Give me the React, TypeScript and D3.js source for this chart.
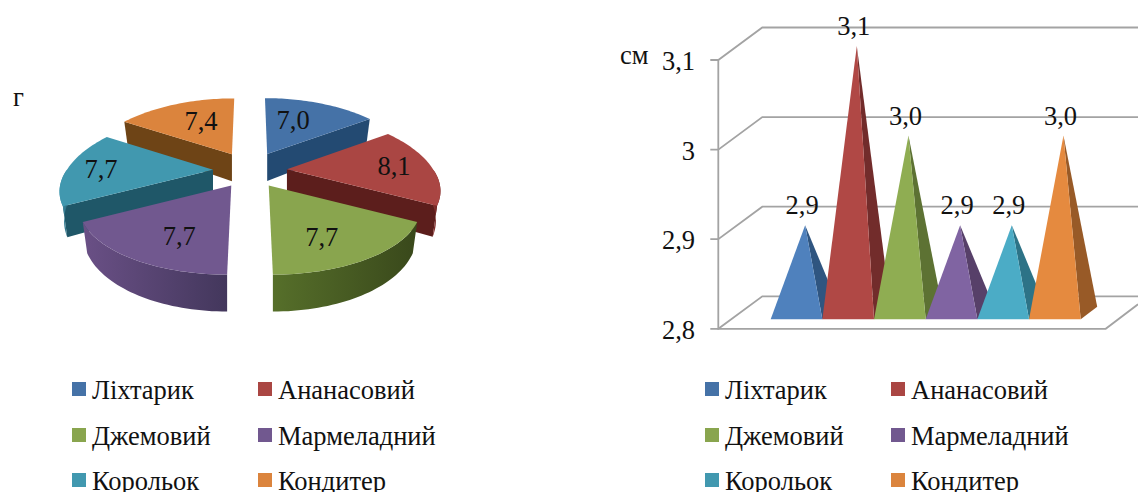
import React from "react";
import * as d3 from "d3";

// Sweet varieties, shared by both charts
const categories = ["Ліхтарик", "Ананасовий", "Джемовий", "Мармеладний", "Корольок", "Кондитер"];
const massValues = [7.0, 8.1, 7.7, 7.7, 7.7, 7.4];
const heightValues = [2.9, 3.1, 3.0, 2.9, 2.9, 3.0];
const heightTicks = [2.8, 2.9, 3.0, 3.1];
const heightTickLabels = ["2,8", "2,9", "3", "3,1"];

const topColors = ["#4572a7", "#aa4643", "#89a54e", "#71588f", "#4198af", "#db843d"];
const wallColors = ["#234a72", "#5c1e1c", "#3e4f1e", "#453a5e", "#1f5768", "#6e4416"];
const rimLeftColors = ["#35597f", "#8a3331", "#566f2a", "#6a5086", "#4a9cb4", "#a8642a"];
const rimRightColors = ["#2a4d78", "#5e1e1c", "#39481b", "#43375c", "#2f7186", "#6e4416"];
const coneColors = ["#4f81bd", "#b04845", "#8fad52", "#8064a2", "#4bacc6", "#e58a3f"];
const coneSideColors = ["#2f5580", "#722c2b", "#5d7233", "#574069", "#2d7387", "#985a27"];

// Value label offsets from each slice's inner corner
const pieLabelOffsets = [[26, -25], [107, 6], [53, 60], [-52, 59], [-112, 8], [-31, -24]];

const FONT = "'Liberation Serif', 'Times New Roman', serif";
const TEXT = "#111";
const FONT_SIZE = 26.5;

// Tilted-disc projection for the pie
const PIE = { cx: 250, cy: 170, rx: 146, ryFront: 65, ryBack: 71, persp: 0.27, depth: 27, explodeX: 37, explodeY: 18, converge: 0.6, floorInset: 0.97 };
const persp = (v: number) => 1 / (1 - PIE.persp * v);
const rimOffset = (theta: number) => {
  const u = Math.sin(theta);
  const v = -Math.cos(theta);
  const w = persp(v);
  return { x: PIE.rx * u * w, y: (v < 0 ? PIE.ryBack : PIE.ryFront) * v * w, d: PIE.depth * w, w };
};

const line = d3.line<[number, number]>().x((p) => p[0]).y((p) => p[1]);
const closed = (pts: [number, number][]) => line(pts) + "Z";

const arcs = d3.pie<number>().sort(null).startAngle(0).endAngle(2 * Math.PI)(massValues);

function sliceGeometry(i: number) {
  const a = arcs[i];
  const mid = (a.startAngle + a.endAngle) / 2;
  const ex = PIE.explodeX * Math.sin(mid);
  const ax = PIE.cx + ex;
  const ay = PIE.cy - PIE.explodeY * Math.cos(mid);
  // The sideways explode offset grows with nearness, so slice edges converge
  const at = (t: number): [number, number] => {
    const o = rimOffset(t);
    return [ax + o.x + PIE.converge * ex * (o.w - 1), ay + o.y];
  };
  const low = (t: number): [number, number] => {
    const o = rimOffset(t);
    return [ax + o.x * PIE.floorInset + PIE.converge * ex * (o.w - 1), ay + o.y + o.d];
  };
  const ang = d3.range(0, 41).map((k) => a.startAngle + ((a.endAngle - a.startAngle) * k) / 40);
  const top: [number, number][] = [[ax, ay], ...ang.map(at)];

  const wall = (t: number): [number, number][] => [[ax, ay], at(t), low(t), [ax, ay + PIE.depth]];
  const walls: string[] = [];
  if (Math.sin(a.startAngle) < -1e-6) walls.push(closed(wall(a.startAngle)));
  if (Math.sin(a.endAngle) > 1e-6) walls.push(closed(wall(a.endAngle)));

  const visible = ang.filter((t) => Math.cos(t) <= 0.02);
  const rim = visible.length > 1 ? closed([...visible.map(at), ...[...visible].reverse().map(low)]) : null;
  const xs = visible.map(at).map((p) => p[0]);
  return { ax, ay, top: closed(top), walls, rim, x0: d3.min(xs) ?? ax, x1: d3.max(xs) ?? ax };
}

// Back slices are painted first so the nearer ones overlap them
const paintOrder = [5, 0, 4, 1, 3, 2];

function PieChart() {
  const geo = categories.map((_, i) => sliceGeometry(i));
  return (
    <g>
      <defs>
        {geo.map((g, i) => (
          <linearGradient key={i} id={`rim${i}`} gradientUnits="userSpaceOnUse" x1={g.x0} x2={g.x1} y1={0} y2={0}>
            <stop offset="0" stopColor={rimLeftColors[i]} />
            <stop offset="1" stopColor={rimRightColors[i]} />
          </linearGradient>
        ))}
      </defs>
      {paintOrder.map((i) => {
        const g = geo[i];
        return (
          <g key={i}>
            {g.walls.map((d, k) => <path key={k} d={d} fill={wallColors[i]} />)}
            {g.rim && <path d={g.rim} fill={`url(#rim${i})`} />}
            <path d={g.top} fill={topColors[i]} />
          </g>
        );
      })}
      {massValues.map((v, i) => (
        <text key={i} x={geo[i].ax + pieLabelOffsets[i][0]} y={geo[i].ay + pieLabelOffsets[i][1]}
          textAnchor="middle" fontSize={FONT_SIZE} fontFamily={FONT} fill={TEXT}>
          {v.toFixed(1).replace(".", ",")}
        </text>
      ))}
      <text x={13} y={106} fontSize={FONT_SIZE} fontFamily={FONT} fill={TEXT}>г</text>
    </g>
  );
}

// Pyramid chart frame and scales
const FRAME = { x: 718.3, backDx: 44, backDy: 32.5, right: 1105.7 };
const yScale = d3.scaleLinear().domain([2.8, 3.1]).range([328.8, 60]);
const xBand = d3.scaleBand<string>().domain(categories).range([770.7, 1080.7]).paddingInner(0);
const BASE_Y = 319.3;
const SIDE = { dx: 16.5, dy: 12.6 };
const APEX_SHIFT = 8.6;
const GRID = "#a3a3a3";

function ConeChart() {
  const bw = xBand.bandwidth();
  return (
    <g>
      {heightTicks.map((t, i) => {
        const y = yScale(t);
        const pts: [number, number][] = [[FRAME.x - 8, y], [FRAME.x, y], [FRAME.x + FRAME.backDx, y - FRAME.backDy], [1138, y - FRAME.backDy]];
        return (
          <g key={t}>
            <path d={line(pts) ?? ""} fill="none" stroke={GRID} strokeWidth={1.8} />
            <text x={695} y={y + 10} textAnchor="end" fontSize={FONT_SIZE} fontFamily={FONT} fill={TEXT}>
              {heightTickLabels[i]}
            </text>
          </g>
        );
      })}
      <path d={line([[FRAME.x, yScale(3.1)], [FRAME.x, yScale(2.8)], [FRAME.right, yScale(2.8)], [1138, yScale(2.8) - 24.5]]) ?? ""}
        fill="none" stroke={GRID} strokeWidth={1.8} />
      {categories.map((c, i) => {
        const x0 = xBand(c) ?? 0;
        const x1 = x0 + bw;
        const apexX = x0 + bw / 2 + APEX_SHIFT;
        const apexY = yScale(heightValues[i]) - 14;
        return (
          <g key={c}>
            <path d={closed([[apexX, apexY], [x1, BASE_Y], [x1 + SIDE.dx, BASE_Y - SIDE.dy]])} fill={coneSideColors[i]} />
            <path d={closed([[apexX, apexY], [x0, BASE_Y], [x1, BASE_Y]])} fill={coneColors[i]} />
          </g>
        );
      })}
      {categories.map((c, i) => (
        <text key={c} x={(xBand(c) ?? 0) + bw / 2 + APEX_SHIFT - 3} y={yScale(heightValues[i]) - 25}
          textAnchor="middle" fontSize={FONT_SIZE} fontFamily={FONT} fill={TEXT}>
          {heightValues[i].toFixed(1).replace(".", ",")}
        </text>
      ))}
      <text x={620} y={64} fontSize={FONT_SIZE} fontFamily={FONT} fill={TEXT}>см</text>
    </g>
  );
}

const legendRows = d3.scaleOrdinal<number, number>().domain([0, 1, 2]).range([382, 428, 473]);

function Legend({ x }: { x: number }) {
  return (
    <g>
      {categories.map((c, i) => {
        const col = i % 2;
        const row = Math.floor(i / 2);
        const sx = x + col * 186;
        const sy = legendRows(row);
        return (
          <g key={c}>
            <rect x={sx} y={sy} width={14} height={14} fill={topColors[i]} />
            <text x={sx + 20} y={sy + 17} fontSize={FONT_SIZE} fontFamily={FONT} fill={TEXT}>{c}</text>
          </g>
        );
      })}
    </g>
  );
}

export default function App() {
  return (
    <svg width={1138} height={492} viewBox="0 0 1138 492"
      style={{ position: "absolute", left: 0, top: 0, background: "#fff" }}>
      <PieChart />
      <ConeChart />
      <Legend x={72} />
      <Legend x={705} />
    </svg>
  );
}
